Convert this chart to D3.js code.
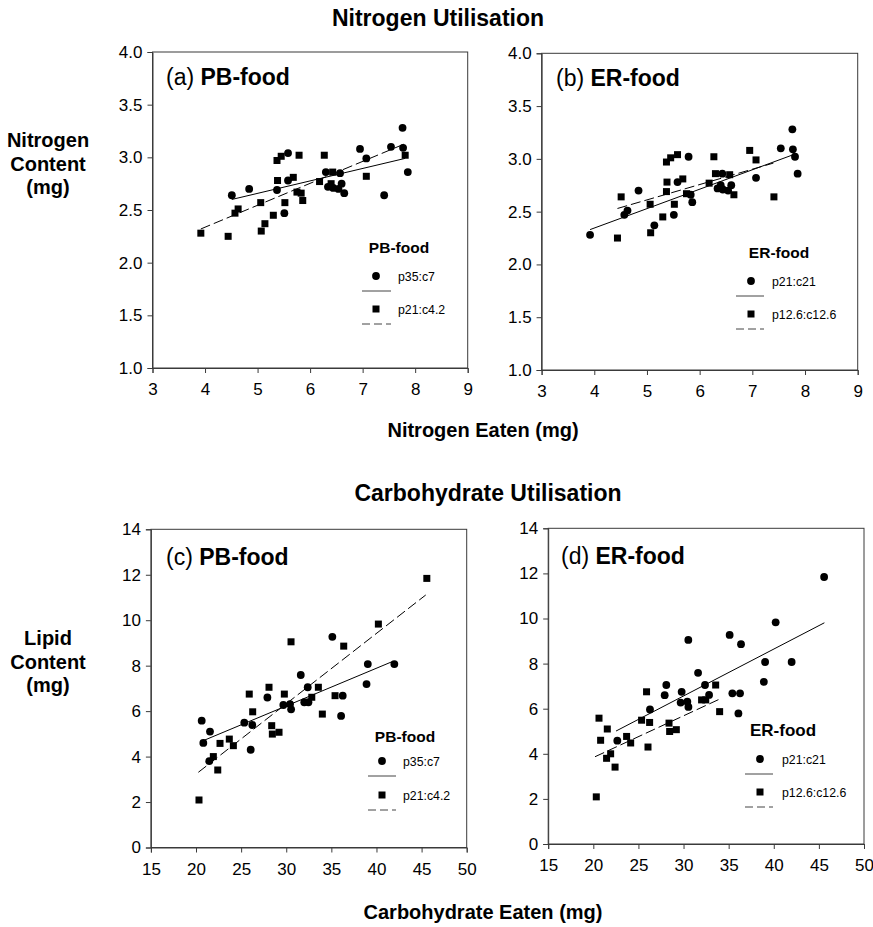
<!DOCTYPE html>
<html>
<head>
<meta charset="utf-8">
<script src="https://cdn.jsdelivr.net/npm/d3@7"></script>
<style>
  html, body { margin: 0; padding: 0; background: #fff; }
  svg { display: block; }
  text { font-family: "Liberation Sans", Arial, Helvetica, sans-serif; fill: #000; }
</style>
</head>
<body>
<svg id="chart" width="873" height="927"></svg>
<script>
// ---- Nitrogen utilisation: nitrogen eaten (mg) vs nitrogen content (mg) ----
const nitrogenEaten = [3.92, 4.44, 4.57, 4.63, 4.51, 4.84, 5.07, 5.14, 5.30, 5.06, 5.52,
  5.51, 5.37, 5.38, 5.58, 5.68, 5.37, 5.45, 5.58, 5.79, 5.75, 5.83, 5.86, 6.18, 6.27,
  6.30, 6.43, 6.57, 6.34, 6.44, 6.54, 6.60, 6.65, 6.40, 6.95, 7.07, 7.07, 7.41, 7.54,
  7.76, 7.77, 7.81, 7.86];
const nitrogenContent = [2.28, 2.25, 2.47, 2.51, 2.64, 2.70, 2.30, 2.37, 2.45, 2.57, 2.57,
  2.47, 2.69, 2.78, 2.78, 2.81, 2.97, 3.01, 3.04, 3.02, 2.67, 2.66, 2.59, 2.77, 3.02,
  2.86, 2.86, 2.85, 2.72, 2.71, 2.70, 2.75, 2.66, 2.75, 3.08, 2.99, 2.82, 2.64, 3.10,
  3.28, 3.09, 3.02, 2.86];
// diet of each point: 0 = first diet (circle), 1 = second diet (square)
const nitrogenDietPB = [1, 1, 1, 1, 0, 0, 1, 1, 1, 1, 1, 0, 0, 1, 0, 1, 1, 1, 0, 1, 1, 1, 1, 1, 1,
  0, 1, 0, 0, 0, 0, 0, 0, 1, 0, 0, 1, 0, 0, 0, 0, 1, 0];
const nitrogenDietER = [0, 1, 0, 0, 1, 0, 1, 0, 1, 1, 1, 0, 1, 1, 0, 1, 1, 1, 1, 0, 1, 0, 0, 1, 1,
  1, 0, 1, 0, 0, 0, 0, 1, 0, 1, 1, 0, 1, 0, 0, 0, 0, 0];
// regression lines [x1, y1, x2, y2] for each diet
const nitrogenFitPB = [[4.51, 2.60, 7.81, 2.99], [3.92, 2.32, 7.81, 3.13]];
const nitrogenFitER = [[3.92, 2.33, 7.78, 3.04], [4.44, 2.53, 7.40, 2.96]];

// ---- Carbohydrate utilisation: carbohydrate eaten (mg) vs lipid content (mg) ----
const carbEaten = [20.33, 20.63, 20.81, 21.55, 21.47, 21.92, 22.41, 22.66, 23.69, 24.14,
  25.35, 26.24, 26.06, 26.28, 25.90, 27.91, 28.09, 28.39, 28.46, 29.20, 29.79, 29.68,
  30.42, 30.54, 30.53, 31.61, 32.38, 32.00, 32.46, 32.83, 33.56, 34.00, 35.11, 35.41,
  36.26, 36.08, 36.37, 38.90, 39.04, 41.98, 40.21, 45.58];
const lipidContent = [2.09, 5.58, 4.60, 5.10, 3.80, 4.00, 3.41, 4.58, 4.77, 4.48,
  5.49, 5.39, 4.30, 5.97, 6.75, 6.60, 7.05, 5.36, 4.99, 5.07, 6.75, 6.27,
  6.31, 6.08, 9.05, 7.59, 7.05, 6.39, 6.39, 6.61, 7.05, 5.87, 9.27, 6.68,
  6.68, 5.79, 8.86, 7.19, 8.07, 8.07, 9.83, 11.84];
const carbDietPB = [1, 0, 0, 0, 0, 1, 1, 1, 1, 1, 0, 0, 0, 1, 1, 0, 1, 1, 1, 1, 1, 0,
  0, 0, 1, 0, 0, 0, 0, 1, 1, 1, 0, 1, 0, 0, 1, 0, 0, 0, 1, 1];
const carbDietER = [1, 1, 1, 1, 1, 1, 1, 0, 1, 1, 1, 1, 1, 0, 1, 0, 0, 1, 1, 1, 0, 0,
  0, 0, 0, 0, 0, 1, 1, 0, 1, 1, 0, 0, 0, 0, 0, 0, 0, 0, 0, 0];
const carbFitPB = [[20.8, 4.70, 41.7, 8.17], [20.26, 3.31, 45.46, 11.11]];
const carbFitER = [[22.52, 5.01, 45.61, 9.81], [20.19, 3.87, 33.97, 6.42]];

// ---- axis ticks and labels ----
const nitrogenXTicks = [3, 4, 5, 6, 7, 8, 9];
const nitrogenYTicks = [1.0, 1.5, 2.0, 2.5, 3.0, 3.5, 4.0];
const carbXTicks = [15, 20, 25, 30, 35, 40, 45, 50];
const carbYTicks = [0, 2, 4, 6, 8, 10, 12, 14];
const dietsPB = ["p35:c7", "p21:c4.2"];
const dietsER = ["p21:c21", "p12.6:c12.6"];

const svg = d3.select("#chart");
const FONT = '"Liberation Sans", Arial, Helvetica, sans-serif';

function drawPanel(p) {
  const x = d3.scaleLinear().domain(p.xDomain).range([p.left, p.right]);
  const y = d3.scaleLinear().domain(p.yDomain).range([p.bottom, p.top]);
  const g = svg.append("g");

  // frame
  g.append("rect")
    .attr("x", p.left).attr("y", p.top)
    .attr("width", p.right - p.left).attr("height", p.bottom - p.top)
    .attr("fill", "none").attr("stroke", "#3a3a3a").attr("stroke-width", 1);

  const xAxis = g.append("g").attr("transform", `translate(0,${p.bottom})`)
    .call(d3.axisBottom(x).tickValues(p.xTicks).tickSize(5).tickPadding(10)
      .tickFormat(d3.format("d")));
  const yAxis = g.append("g").attr("transform", `translate(${p.left},0)`)
    .call(d3.axisLeft(y).tickValues(p.yTicks).tickSize(5).tickPadding(5)
      .tickFormat(d3.format(p.yFormat)));
  [xAxis, yAxis].forEach(a => {
    a.select(".domain").attr("stroke", "#3a3a3a");
    a.selectAll(".tick line").attr("stroke", "#3a3a3a");
    a.selectAll(".tick text").attr("font-family", FONT).attr("font-size", 17).attr("fill", "#000");
  });

  // regression lines
  p.fits.forEach((f, i) => {
    g.append("line")
      .attr("x1", x(f[0])).attr("y1", y(f[1]))
      .attr("x2", x(f[2])).attr("y2", y(f[3]))
      .attr("stroke", "#000").attr("stroke-width", 1)
      .attr("stroke-dasharray", i === 1 ? "10,4" : null);
  });

  // points
  const pts = p.xs.map((v, i) => ({ x: v, y: p.ys[i], diet: p.diet[i] }));
  const sq = 7;
  g.selectAll("rect.pt").data(pts.filter(d => d.diet === 1)).join("rect")
    .attr("class", "pt")
    .attr("x", d => x(d.x) - sq / 2).attr("y", d => y(d.y) - sq / 2)
    .attr("width", sq).attr("height", sq).attr("fill", "#000");
  g.selectAll("circle.pt").data(pts.filter(d => d.diet === 0)).join("circle")
    .attr("class", "pt")
    .attr("cx", d => x(d.x)).attr("cy", d => y(d.y))
    .attr("r", 3.9).attr("fill", "#000");

  // panel label
  const lab = g.append("text").attr("x", p.labelX).attr("y", p.labelY)
    .attr("font-size", 23);
  lab.append("tspan").text(p.letter + " ");
  lab.append("tspan").attr("font-weight", "bold").text(p.food);

  // legend
  const L = p.legend;
  g.append("text").attr("x", L.titleX).attr("y", L.titleY)
    .attr("text-anchor", "middle").attr("font-weight", "bold")
    .attr("font-size", L.titleSize).text(p.food);
  g.append("circle").attr("cx", L.markX).attr("cy", L.row1).attr("r", 3.9).attr("fill", "#000");
  g.append("rect").attr("x", L.markX - sq / 2).attr("y", L.row2 - sq / 2)
    .attr("width", sq).attr("height", sq).attr("fill", "#000");
  [L.row1, L.row2].forEach((r, i) => {
    g.append("text").attr("x", L.textX).attr("y", r + 4.5)
      .attr("font-size", 12.3).text(p.diets[i]);
    g.append("line").attr("x1", L.lineX1).attr("x2", L.lineX2)
      .attr("y1", r + 15).attr("y2", r + 15)
      .attr("stroke", "#444").attr("stroke-width", 1)
      .attr("stroke-dasharray", i === 1 ? "8,4" : null);
  });
}

drawPanel({
  left: 152.5, right: 467.7, top: 52, bottom: 368,
  xDomain: [3, 9], yDomain: [1, 4], xTicks: nitrogenXTicks, yTicks: nitrogenYTicks, yFormat: ".1f",
  xs: nitrogenEaten, ys: nitrogenContent, diet: nitrogenDietPB, fits: nitrogenFitPB,
  letter: "(a)", food: "PB-food", diets: dietsPB, labelX: 166, labelY: 85,
  legend: { titleX: 399, titleY: 253, titleSize: 15.5, markX: 376, textX: 398, row1: 276, row2: 309, lineX1: 362, lineX2: 391 }
});
drawPanel({
  left: 541.6, right: 857.7, top: 53.3, bottom: 370,
  xDomain: [3, 9], yDomain: [1, 4], xTicks: nitrogenXTicks, yTicks: nitrogenYTicks, yFormat: ".1f",
  xs: nitrogenEaten, ys: nitrogenContent, diet: nitrogenDietER, fits: nitrogenFitER,
  letter: "(b)", food: "ER-food", diets: dietsER, labelX: 556, labelY: 86,
  legend: { titleX: 779, titleY: 258, titleSize: 15.5, markX: 751, textX: 772, row1: 281, row2: 314, lineX1: 736, lineX2: 764 }
});
drawPanel({
  left: 150.9, right: 466.7, top: 529.3, bottom: 847.5,
  xDomain: [15, 50], yDomain: [0, 14], xTicks: carbXTicks, yTicks: carbYTicks, yFormat: "d",
  xs: carbEaten, ys: lipidContent, diet: carbDietPB, fits: carbFitPB,
  letter: "(c)", food: "PB-food", diets: dietsPB, labelX: 166, labelY: 565,
  legend: { titleX: 405, titleY: 742, titleSize: 15.5, markX: 382, textX: 403, row1: 761, row2: 795, lineX1: 368, lineX2: 396 }
});
drawPanel({
  left: 548.2, right: 864, top: 528.3, bottom: 844,
  xDomain: [15, 50], yDomain: [0, 14], xTicks: carbXTicks, yTicks: carbYTicks, yFormat: "d",
  xs: carbEaten, ys: lipidContent, diet: carbDietER, fits: carbFitER,
  letter: "(d)", food: "ER-food", diets: dietsER, labelX: 561, labelY: 564,
  legend: { titleX: 783, titleY: 736, titleSize: 17, markX: 760, textX: 782, row1: 759, row2: 792, lineX1: 745, lineX2: 773 }
});

// section titles and shared axis titles
const titles = [
  { t: "Nitrogen Utilisation", x: 438, y: 26, s: 23 },
  { t: "Nitrogen Eaten (mg)", x: 483, y: 437, s: 20 },
  { t: "Carbohydrate Utilisation", x: 488, y: 501, s: 23 },
  { t: "Carbohydrate Eaten (mg)", x: 483, y: 919, s: 20 }
];
titles.forEach(d => svg.append("text").attr("x", d.x).attr("y", d.y)
  .attr("text-anchor", "middle").attr("font-weight", "bold").attr("font-size", d.s).text(d.t));

const yTitles = [
  { lines: ["Nitrogen", "Content", "(mg)"], x: 48, y: 147 },
  { lines: ["Lipid", "Content", "(mg)"], x: 48, y: 645 }
];
yTitles.forEach(d => d.lines.forEach((l, i) => svg.append("text")
  .attr("x", d.x).attr("y", d.y + i * 23.5).attr("text-anchor", "middle")
  .attr("font-weight", "bold").attr("font-size", 20).text(l)));
</script>
</body>
</html>
